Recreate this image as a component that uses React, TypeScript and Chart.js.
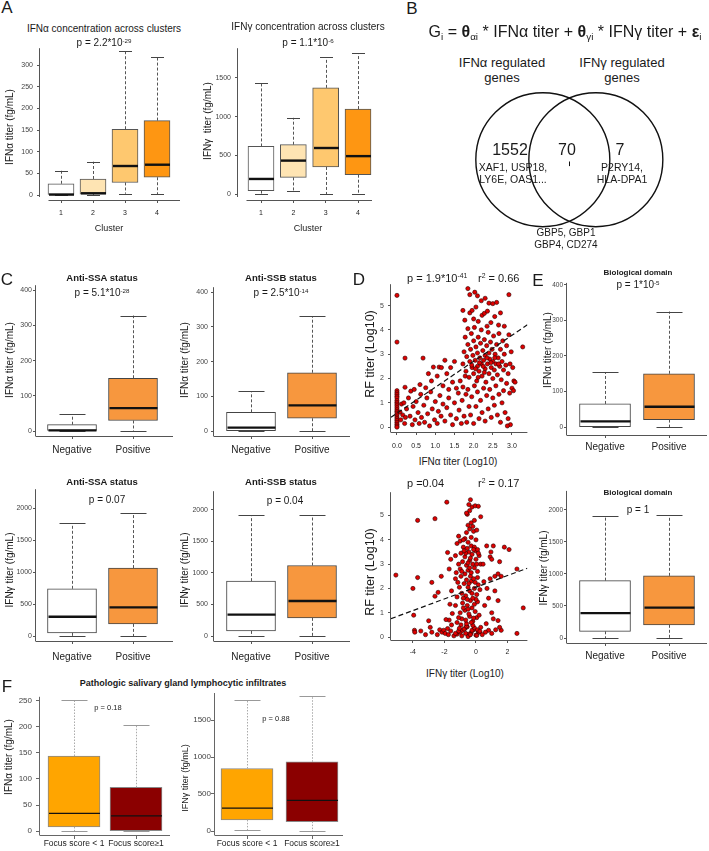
import React, { useEffect, useRef } from 'react';
import { Chart, registerables } from 'chart.js';
Chart.register(...registerables);

const FONT = '"Liberation Sans", Arial, Helvetica, sans-serif';
Chart.defaults.font.family = FONT;

// ---------------- DATA ----------------
// every box row: [min, q1, median, q3, max]
const clusterLabels = ['1', '2', '3', '4'];
const clusterIfnAlpha = [[0, 0, 1, 26, 56], [0, 2, 4, 37, 77], [3, 29, 67, 152, 332], [2, 41, 70, 172, 318]];
const clusterIfnGamma = [[0, 45, 195, 615, 1438], [35, 215, 432, 638, 985], [0, 350, 595, 1372, 1770], [0, 250, 490, 1098, 1822]];

const statusLabels = ['Negative', 'Positive'];
const ssaIfnAlpha = [[0, 0, 2, 18, 47], [0, 30, 65, 150, 328]];
const ssbIfnAlpha = [[0, 0, 10, 54, 115], [0, 37, 74, 168, 330]];
const ssaIfnGamma = [[0, 50, 302, 738, 1765], [0, 190, 448, 1062, 1918]];
const ssbIfnGamma = [[0, 82, 340, 870, 1910], [0, 289, 555, 1118, 1918]];
const bioIfnAlpha = [[0, 0, 16, 65, 154], [0, 21, 57, 150, 325]];
const bioIfnGamma = [[0, 105, 388, 895, 1907], [0, 206, 474, 970, 1918]];

const focusLabels = ['Focus score < 1', 'Focus score\u22651'];
const focusIfnAlpha = [[0, 8, 34, 144, 252], [0, 0, 29, 84, 203]];
const focusIfnGamma = [[14, 150, 309, 845, 1764], [0, 127, 414, 936, 1818]];

const alphaClusterTicks = [0, 50, 100, 150, 200, 250, 300];
const gammaClusterTicks = [0, 500, 1000, 1500];
const alphaStatusTicks = [0, 100, 200, 300, 400];
const gammaStatusTicks = [0, 500, 1000, 1500, 2000];
const focusAlphaTicks = [0, 50, 100, 150, 200, 250];
const focusGammaTicks = [0, 500, 1000, 1500];
const rfTicks = [0, 1, 2, 3, 4, 5];
const alphaLogTicks = [0, 0.5, 1, 1.5, 2, 2.5, 3];
const gammaLogTicks = [-4, -2, 0, 2];

// Venn: IFNα only, both, IFNγ only
const vennCounts = [1552, 70, 7];

// regression fits: [intercept, slope]
const rfAlphaFit = [0.57, 1.07];
const rfGammaFit = [2.05, 0.24];

// RF titer (log10) vs IFNα titer (log10): [x, y]
const rfVsAlpha = [
  [0, 5.42], [0, 3.5], [0, 1.5], [0, 1.42], [0, 1.35], [0, 1.27], [0, 1.2], [0, 1.1], [0, 1.02], [0, 0.95], [0, 0.88], [0, 0.8],
  [0, 0.72], [0, 0.65], [0, 0.58], [0, 0.5], [0, 0.42], [0, 0.35], [0, 0.28], [0, 0.2], [0, 0.12], [0, 0.05], [0, 0.0],
  [0.08, 0.62], [0.1, 0.3], [0.12, 0.95], [0.15, 0.5], [0.18, 1.0], [0.2, 0.15], [0.21, 1.64], [0.21, 2.84], [0.25, 0.75], [0.22, 0.4],
  [0.3, 1.2], [0.34, 0.45], [0.36, 1.48], [0.4, 0.1], [0.42, 0.85], [0.47, 0.3], [0.5, 1.05], [0.55, 0.6], [0.58, 0.15], [0.62, 1.35],
  [0.64, 0.4], [0.7, 0.9], [0.72, 0.2], [0.78, 1.2], [0.8, 0.55], [0.85, 0.05], [0.88, 1.45], [0.92, 0.75], [0.98, 0.3], [1.0, 1.05],
  [1.05, 0.15], [1.08, 0.65], [1.12, 1.3], [1.15, 0.45], [1.2, 0.95], [0.6, 1.75], [0.75, 1.62], [0.45, 1.55],
  [0.68, 2.84], [0.95, 2.47], [1.1, 2.47], [1.16, 2.45], [0.9, 1.9], [1.05, 2.1], [1.2, 1.7], [1.25, 2.75], [1.3, 2.2], [1.35, 1.55],
  [1.4, 2.45], [1.45, 1.85], [1.5, 2.7], [0.82, 2.2],
  [1.25, 0.25], [1.3, 0.8], [1.35, 1.2], [1.4, 0.5], [1.45, 0.1], [1.5, 1.0], [1.55, 0.35], [1.6, 1.4], [1.62, 0.7], [1.68, 0.15],
  [1.7, 1.1], [1.75, 0.45], [1.8, 1.35], [1.82, 0.2], [1.88, 0.85], [1.55, 1.6], [1.65, 1.9], [1.72, 1.65], [1.78, 2.1], [1.85, 1.55],
  [1.72, 2.6], [1.75, 3.1], [1.78, 3.7], [1.8, 2.3], [1.82, 2.9], [1.85, 3.4], [1.85, 4.05], [1.88, 2.05], [1.9, 2.7], [1.92, 3.2],
  [1.94, 3.85], [1.96, 2.45], [1.98, 2.95], [2.0, 3.55], [2.0, 2.2], [2.02, 4.1], [2.04, 2.75], [2.06, 3.3], [2.08, 1.9], [2.1, 2.5],
  [2.1, 3.05], [2.12, 3.7], [2.14, 2.3], [2.16, 2.85], [2.18, 3.45], [2.2, 2.6], [2.2, 4.0], [2.22, 2.1], [2.24, 3.15], [2.26, 2.75],
  [2.28, 3.6], [2.3, 2.4], [2.3, 2.95], [2.32, 1.85], [2.34, 3.35], [2.36, 2.6], [2.38, 3.9], [2.4, 2.2], [2.4, 3.05], [2.42, 2.8],
  [2.44, 3.5], [2.46, 2.45], [2.48, 3.2], [2.5, 2.0], [2.5, 2.7], [2.52, 3.75], [2.54, 2.35], [2.56, 3.0], [2.58, 2.6], [2.6, 3.4],
  [2.62, 2.15], [2.64, 2.85], [2.66, 3.85], [2.68, 2.5], [2.7, 3.2], [2.72, 1.95], [2.74, 2.7], [2.76, 3.55], [2.78, 2.35], [2.8, 3.0],
  [2.84, 2.55], [2.86, 3.35], [2.9, 2.2], [2.92, 3.8], [2.95, 2.6], [2.98, 3.1], [3.02, 2.45], [3.05, 1.9], [1.95, 2.55], [2.05, 2.4],
  [2.15, 2.65], [2.25, 2.5], [2.35, 2.85], [2.45, 2.65], [2.55, 2.85], [2.65, 2.6], [2.28, 2.25], [2.12, 2.05],
  [1.72, 4.8], [1.77, 4.4], [1.85, 5.7], [1.9, 5.45], [1.9, 4.7], [1.96, 4.8], [2.03, 5.55], [2.06, 4.94], [2.1, 5.4], [2.12, 4.35],
  [2.2, 5.2], [2.22, 4.6], [2.28, 4.68], [2.3, 5.3], [2.36, 4.77], [2.4, 5.1], [2.45, 4.3], [2.5, 5.08], [2.55, 4.55], [2.6, 5.13],
  [2.65, 4.2], [2.7, 4.7], [2.8, 4.15], [2.92, 5.45], [2.0, 4.45], [2.35, 4.15],
  [1.92, 0.5], [1.95, 1.25], [2.0, 0.15], [2.02, 1.7], [2.06, 0.85], [2.1, 1.45], [2.14, 0.35], [2.18, 1.1], [2.22, 0.6], [2.26, 1.6],
  [2.3, 0.25], [2.34, 1.3], [2.38, 0.75], [2.42, 1.55], [2.46, 0.4], [2.5, 1.2], [2.54, 0.9], [2.58, 1.7], [2.62, 0.5], [2.66, 1.35],
  [2.7, 0.2], [2.74, 1.0], [2.78, 1.5], [2.82, 0.6], [2.86, 1.8], [2.9, 0.35], [2.94, 1.4], [2.96, 0.1], [3.0, 1.6], [3.04, 1.5],
  [3.08, 1.85], [2.88, 0.05], [3.28, 3.3]
];

// RF titer (log10) vs IFNγ titer (log10): [x, y]
const rfVsGamma = [
  [-5.08, 2.55], [-4.0, 2.0], [-3.95, 0.9], [-3.9, 0.28], [-3.88, 0.2], [-3.7, 2.45], [-3.7, 4.8], [-3.5, 0.25], [-3.2, 0.1],
  [-3.0, 0.67], [-2.9, 0.4], [-2.8, 0.2], [-2.8, 2.25], [-2.6, 1.68], [-2.6, 4.87], [-2.4, 1.84], [-2.2, 2.5], [-2.45, 0.1],
  [-2.3, 0.3], [-2.15, 0.2], [-2.05, 0.28], [-1.85, 5.55], [-1.8, 3.48], [-1.7, 2.8], [-1.6, 3.2], [-1.65, 1.35], [-1.55, 1.9],
  [-1.5, 0.97], [-1.95, 0.15], [-1.8, 0.35], [-1.75, 0.1], [-1.7, 0.7], [-1.9, 0.72], [-1.6, 0.25], [-1.55, 0.5],
  [-1.4, 0.05], [-1.2, 0.12], [-1.0, 0.2], [-0.85, 0.28], [-0.7, 0.35], [-0.55, 0.42], [-0.4, 0.1], [-0.3, 0.18], [-0.15, 0.3],
  [0.0, 0.08], [0.15, 0.22], [0.3, 0.4], [-1.3, 0.15], [-1.1, 0.25], [-0.9, 0.05], [-0.75, 0.33], [-0.6, 0.45], [-0.45, 0.12],
  [-0.25, 0.28], [-0.1, 0.38], [0.05, 0.07], [0.2, 0.2], [-0.95, 0.5], [-0.5, 0.02], [-0.2, 0.48], [0.1, 0.3], [-0.65, 0.15],
  [-0.35, 0.1], [-1.05, 0.36], [0.25, 0.24],
  [-1.2, 0.6], [-0.9, 0.75], [-0.6, 0.55], [-0.4, 0.85], [-0.2, 0.65], [0.05, 0.8], [-1.0, 1.0], [-0.7, 1.1], [-0.45, 0.95],
  [-0.25, 1.2], [-0.05, 1.05], [0.2, 0.9], [-1.3, 1.3], [-0.85, 1.4], [-0.55, 1.3], [-0.35, 1.5], [-0.1, 1.35], [0.1, 1.45],
  [-0.65, 0.7], [-0.3, 0.6], [-0.8, 1.2], [-0.5, 1.15], [0.0, 1.55], [-1.1, 0.8], [-0.15, 0.78],
  [-1.2, 1.65], [-0.9, 1.8], [-0.65, 1.7], [-0.4, 1.9], [-0.2, 1.6], [0.05, 1.75], [-1.05, 2.05], [-0.75, 2.2], [-0.5, 2.05],
  [-0.3, 2.3], [-0.1, 2.0], [0.15, 2.15], [-1.3, 2.4], [-0.95, 2.5], [-0.6, 2.35], [-0.35, 2.5], [-0.15, 2.4], [0.1, 2.45],
  [-0.8, 1.6], [-0.55, 1.55], [-0.25, 1.8], [-0.45, 2.2], [-0.05, 2.25], [-1.15, 2.25], [0.25, 1.95],
  [-1.25, 2.65], [-1.0, 2.8], [-0.7, 2.6], [-0.5, 2.75], [-0.3, 2.65], [-0.1, 2.85], [0.1, 2.7], [-1.1, 3.0], [-0.85, 3.1],
  [-0.6, 2.95], [-0.4, 3.15], [-0.2, 3.0], [0.0, 3.2], [0.3, 3.0], [-1.3, 3.35], [-0.95, 3.45], [-0.7, 3.3], [-0.45, 3.5],
  [-0.25, 3.4], [-0.05, 3.55], [0.2, 3.35], [-0.8, 3.7], [-0.55, 3.65], [-0.3, 3.75], [-0.1, 3.7], [0.1, 3.6], [-0.65, 3.45],
  [-0.35, 3.25], [-0.15, 3.6], [-0.5, 3.05], [-0.9, 2.7], [0.05, 3.0], [-0.75, 3.55], [-0.4, 2.85], [0.15, 3.45],
  [-1.2, 3.85], [-1.0, 3.95], [-0.7, 4.05], [-0.5, 3.9], [-0.3, 4.1], [0.0, 4.0], [-1.1, 4.15], [-0.6, 4.3], [-0.4, 4.45],
  [-0.15, 4.35], [0.05, 4.4], [-0.5, 4.6], [-0.3, 4.7], [-0.1, 4.8], [0.3, 4.95], [-0.55, 5.05], [-0.4, 5.2], [-0.25, 5.35],
  [-0.05, 5.4], [0.15, 5.38], [-0.45, 5.45], [-0.35, 5.65], [-0.6, 5.1], [-0.2, 4.55], [-0.8, 4.0],
  [0.68, 3.75], [0.9, 3.3], [0.95, 3.5], [1.0, 3.2], [1.1, 3.75], [1.2, 2.5], [0.9, 2.4], [1.4, 2.6], [1.5, 3.1], [1.8, 3.7],
  [2.1, 3.6], [0.8, 1.6], [1.0, 1.0], [1.4, 1.5], [1.1, 0.75], [1.4, 0.68], [0.8, 0.28], [1.0, 0.15], [1.6, 0.28], [1.5, 0.4],
  [2.6, 0.15], [2.6, 2.8], [3.0, 1.2], [0.5, 2.28], [0.65, 0.55], [0.55, 1.3], [0.45, 3.0], [0.6, 0.2], [1.25, 0.3], [0.4, 0.1],
  [0.7, 2.0], [1.2, 1.9], [1.6, 2.5]
];

// ---------------- helpers ----------------
function ranges(L) {
  const [pl, pt, pr, pb] = L.plot;
  const [xv0, xp0, xv1, xp1] = L.xCal;
  const kx = (xp1 - xp0) / (xv1 - xv0);
  const [yv0, yp0, yv1, yp1] = L.yCal;
  const ky = (yp0 - yp1) / (yv1 - yv0);
  return {
    xmin: xv0 - (xp0 - pl) / kx,
    xmax: xv0 + (pr - xp0) / kx,
    ymin: yv0 - (pb - yp0) / ky,
    ymax: yv0 + (yp0 - pt) / ky,
  };
}

function baseOptions(L, xTickVals, xFmt, yTickVals, yFmt) {
  const [cx, cy, cw, ch] = L.canvas;
  const [pl, pt, pr, pb] = L.plot;
  const r = ranges(L);
  const gridCfg = {
    display: true, drawOnChartArea: false, drawTicks: true, offset: false,
    tickLength: L.tickLen, color: L.axisColor || '#555', lineWidth: 1,
  };
  return {
    animation: false,
    responsive: false,
    devicePixelRatio: 1,
    layout: { padding: { left: 0, top: pt - cy, right: cx + cw - pr, bottom: 0 } },
    plugins: { legend: { display: false }, tooltip: { enabled: false }, title: { display: false } },
    scales: {
      x: {
        type: 'linear', min: r.xmin, max: r.xmax, offset: false,
        grid: gridCfg, border: { display: false },
        afterFit: (s) => { s.height = cy + ch - pb; },
        afterBuildTicks: (s) => { s.ticks = xTickVals.map((v) => ({ value: v })); },
        ticks: {
          autoSkip: false, maxRotation: 0, minRotation: 0,
          font: { size: L.xFont }, color: L.xColor || '#222',
          padding: L.xLabY - pb - L.tickLen - 0.6 * L.xFont,
          callback: (v) => xFmt(v),
        },
      },
      y: {
        type: 'linear', min: r.ymin, max: r.ymax,
        grid: gridCfg, border: { display: false },
        afterFit: (s) => { s.width = pl - cx; },
        afterBuildTicks: (s) => { s.ticks = yTickVals.map((v) => ({ value: v })); },
        ticks: {
          autoSkip: false, font: { size: L.yFont }, color: '#444',
          padding: pl - L.tickLen - L.yLabRight,
          callback: (v) => yFmt(v),
        },
      },
    },
  };
}

function axisLinePlugin(L) {
  return {
    id: 'axisLines',
    afterDraw(chart) {
      const { ctx, chartArea: a } = chart;
      const gx = L.gapX || 0, gy = L.gapY || 0;
      ctx.save();
      ctx.strokeStyle = L.axisColor || '#555';
      ctx.lineWidth = 1;
      ctx.beginPath();
      ctx.moveTo(a.left - 0.5, a.top);
      ctx.lineTo(a.left - 0.5, a.bottom - gy);
      ctx.moveTo(a.left + gx - 0.5, a.bottom + 0.5);
      ctx.lineTo(a.right, a.bottom + 0.5);
      ctx.stroke();
      ctx.restore();
    },
  };
}

function canvasStyle(L) {
  const [cx, cy, cw, ch] = L.canvas;
  return { position: 'absolute', left: cx, top: cy, width: cw, height: ch };
}

function BoxPanel({ L, stats, labels, yTicks, colors, st }) {
  const ref = useRef(null);
  useEffect(() => {
    const opts = baseOptions(L, labels.map((_, i) => i + 1), (v) => labels[Math.round(v) - 1] ?? '', yTicks, (v) => String(v));
    const boxPlugin = {
      id: 'boxWhiskers',
      afterDatasetsDraw(chart) {
        const { ctx } = chart;
        const xs = chart.scales.x, ys = chart.scales.y;
        const py = (v) => ys.getPixelForValue(v);
        stats.forEach((s, i) => {
          const x = Math.round(xs.getPixelForValue(i + 1)) + 0.5;
          ctx.save();
          ctx.lineWidth = 1;
          ctx.strokeStyle = st.whisker;
          ctx.setLineDash(st.dash);
          ctx.beginPath();
          ctx.moveTo(x, py(s[3])); ctx.lineTo(x, py(s[4]));
          ctx.moveTo(x, py(s[1])); ctx.lineTo(x, py(s[0]));
          ctx.stroke();
          ctx.setLineDash([]);
          ctx.strokeStyle = st.cap;
          ctx.beginPath();
          [s[0], s[4]].forEach((v) => {
            const y = Math.round(py(v)) + 0.5;
            ctx.moveTo(x - st.capW / 2, y); ctx.lineTo(x + st.capW / 2, y);
          });
          ctx.stroke();
          ctx.strokeStyle = st.median;
          ctx.lineWidth = st.medianW;
          ctx.beginPath();
          ctx.moveTo(x - st.boxW / 2 + 0.5, py(s[2])); ctx.lineTo(x + st.boxW / 2 - 0.5, py(s[2]));
          ctx.stroke();
          ctx.restore();
        });
      },
    };
    const chart = new Chart(ref.current, {
      type: 'bar',
      data: {
        datasets: [{
          data: stats.map((s, i) => ({ x: i + 1, y: [s[1], s[3]] })),
          backgroundColor: colors,
          borderColor: st.border,
          borderWidth: 1,
          borderSkipped: false,
          barThickness: st.boxW,
        }],
      },
      options: opts,
      plugins: [boxPlugin, axisLinePlugin(L)],
    });
    return () => chart.destroy();
  }, []);
  return <canvas ref={ref} width={L.canvas[2]} height={L.canvas[3]} style={canvasStyle(L)} />;
}

function ScatterPanel({ L, points, fit, xTicks, xFmt, yTicks }) {
  const ref = useRef(null);
  useEffect(() => {
    const opts = baseOptions(L, xTicks, xFmt, yTicks, (v) => String(v));
    const r = ranges(L);
    const chart = new Chart(ref.current, {
      type: 'scatter',
      data: {
        datasets: [
          {
            data: [r.xmin, r.xmax].map((x) => ({ x, y: fit[0] + fit[1] * x })),
            showLine: true, borderColor: '#111', borderWidth: 1.2, borderDash: [5, 3],
            pointRadius: 0, order: 0,
          },
          {
            data: points.map(([x, y]) => ({ x, y })),
            showLine: false, pointRadius: 2.1, pointBackgroundColor: '#e00000',
            pointBorderColor: '#2a0000', pointBorderWidth: 0.6, order: 1, clip: 4,
          },
        ],
      },
      options: opts,
      plugins: [axisLinePlugin(L)],
    });
    return () => chart.destroy();
  }, []);
  return <canvas ref={ref} width={L.canvas[2]} height={L.canvas[3]} style={canvasStyle(L)} />;
}

function VennPanel() {
  const ref = useRef(null);
  const L = { canvas: [440, 85, 262, 150] };
  useEffect(() => {
    const [cx, cy, cw, ch] = L.canvas;
    const unit = 67; // circle radius in px
    const ox = 567.5, oy = 157;
    const pointer = {
      id: 'vennPointer',
      afterDatasetsDraw(chart) {
        const { ctx } = chart;
        const xs = chart.scales.x, ys = chart.scales.y;
        const x = Math.round(xs.getPixelForValue(0)) + 0.5;
        ctx.save();
        ctx.strokeStyle = '#111';
        ctx.lineWidth = 1;
        ctx.beginPath();
        ctx.moveTo(x, ys.getPixelForValue(-0.3));
        ctx.lineTo(x, ys.getPixelForValue(-1.08));
        ctx.stroke();
        ctx.restore();
      },
    };
    const chart = new Chart(ref.current, {
      type: 'bubble',
      data: {
        datasets: [
          {
            data: [{ x: -0.828, y: 0, r: unit }, { x: 0.828, y: 0, r: unit }],
            backgroundColor: 'rgba(0,0,0,0)', borderColor: '#111', borderWidth: 1.4,
            hoverRadius: 0, clip: false,
          },
        ],
      },
      options: {
        animation: false, responsive: false, devicePixelRatio: 1,
        layout: { padding: 0 },
        plugins: { legend: { display: false }, tooltip: { enabled: false } },
        scales: {
          x: { type: 'linear', display: false, min: (cx - ox) / unit, max: (cx + cw - ox) / unit },
          y: { type: 'linear', display: false, min: (oy - cy - ch) / unit, max: (oy - cy) / unit },
        },
      },
      plugins: [pointer],
    });
    return () => chart.destroy();
  }, []);
  return <canvas ref={ref} width={L.canvas[2]} height={L.canvas[3]} style={canvasStyle(L)} />;
}

// ---------------- text ----------------
function T({ x, y, size = 10, bold = false, rot = false, align = 'center', children }) {
  const tx = align === 'center' ? '-50%' : align === 'left' ? '0' : '-100%';
  return (
    <div
      style={{
        position: 'absolute', left: x, top: y, whiteSpace: 'nowrap', lineHeight: 1,
        fontFamily: FONT, fontSize: size, fontWeight: bold ? 'bold' : 'normal', color: '#1a1a1a',
        transform: `translate(${tx}, -50%)${rot ? ' rotate(-90deg)' : ''}`,
      }}
    >
      {children}
    </div>
  );
}
const Sup = ({ children }) => (
  <span style={{ fontSize: '0.62em', position: 'relative', top: '-0.55em' }}>{children}</span>
);
const Sub = ({ children }) => (
  <span style={{ fontSize: '0.62em', position: 'relative', top: '0.3em' }}>{children}</span>
);

// ---------------- styles ----------------
const stA = { boxW: 26, capW: 13, whisker: '#555', cap: '#444', dash: [3, 2], median: '#111', medianW: 2.4, border: '#555' };
const stC = { boxW: 49, capW: 26, whisker: '#555', cap: '#444', dash: [3, 2], median: '#111', medianW: 2.4, border: '#444' };
const stE = { boxW: 51, capW: 26, whisker: '#555', cap: '#444', dash: [3, 2], median: '#111', medianW: 2.4, border: '#444' };
const stF = { boxW: 52, capW: 26, whisker: '#aaa', cap: '#999', dash: [1.5, 1.5], median: '#111', medianW: 1.2, border: '#888' };
const orange = '#f7973e';
const clusterColors = ['#ffffff', '#fee4b3', '#fec86f', '#fe9612'];

const LA1 = { canvas: [0, 40, 185, 190], plot: [40, 48, 180, 200], xCal: [1, 61, 4, 157], yCal: [0, 195, 300, 65], tickLen: 3, xFont: 7, yFont: 7, xLabY: 213, yLabRight: 33, gapX: 9, gapY: 3 };
const LA2 = { canvas: [195, 40, 180, 190], plot: [238, 47, 372, 200], xCal: [1, 261, 4, 358], yCal: [0, 194, 1500, 77], tickLen: 3, xFont: 7, yFont: 7, xLabY: 213, yLabRight: 231, gapX: 9, gapY: 3 };
const LC1 = { canvas: [0, 280, 178, 180], plot: [36, 284, 173, 436], xCal: [1, 72, 2, 133], yCal: [0, 431, 400, 289], tickLen: 3, xFont: 10, yFont: 7, xLabY: 450, yLabRight: 32 };
const LC2 = { canvas: [178, 280, 176, 180], plot: [214, 284, 350, 436], xCal: [1, 251, 2, 312], yCal: [0, 431, 400, 289], tickLen: 3, xFont: 10, yFont: 7, xLabY: 450, yLabRight: 208 };
const LC3 = { canvas: [0, 484, 178, 185], plot: [36, 488, 173, 641], xCal: [1, 72, 2, 133], yCal: [0, 636, 2000, 507], tickLen: 3, xFont: 10, yFont: 7, xLabY: 657, yLabRight: 32 };
const LC4 = { canvas: [178, 484, 176, 185], plot: [214, 488, 350, 641], xCal: [1, 251, 2, 312], yCal: [0, 636, 2000, 507], tickLen: 3, xFont: 10, yFont: 7, xLabY: 657, yLabRight: 208 };
const LE1 = { canvas: [545, 278, 164, 180], plot: [567, 282, 707, 435], xCal: [1, 605, 2, 669], yCal: [0, 427, 400, 284], tickLen: 3, xFont: 10, yFont: 6.5, xLabY: 447, yLabRight: 563 };
const LE2 = { canvas: [545, 486, 164, 185], plot: [567, 490, 707, 643], xCal: [1, 605, 2, 669], yCal: [0, 638, 2000, 509], tickLen: 3, xFont: 10, yFont: 6.5, xLabY: 656, yLabRight: 563 };
const LD1 = { canvas: [360, 276, 172, 180], plot: [391, 280, 528, 432], xCal: [0, 397, 3, 512.5], yCal: [0, 427, 5, 302], tickLen: 3, xFont: 7, yFont: 7, xLabY: 446, yLabRight: 384 };
const LD2 = { canvas: [360, 484, 172, 180], plot: [391, 488, 528, 640], xCal: [-4, 413, 2, 508], yCal: [0, 637, 5, 512], tickLen: 3, xFont: 7, yFont: 7, xLabY: 652, yLabRight: 384 };
const LF1 = { canvas: [0, 688, 176, 163], plot: [40, 694, 170, 835], xCal: [1, 74, 2, 136], yCal: [0, 831, 250, 698], tickLen: 4, xFont: 8.5, yFont: 8, xLabY: 844, yLabRight: 32, axisColor: '#666' };
const LF2 = { canvas: [178, 688, 170, 163], plot: [215, 693, 343, 835], xCal: [1, 247, 2, 312], yCal: [0, 831, 1500, 720], tickLen: 4, xFont: 8.5, yFont: 8, xLabY: 844, yLabRight: 211, axisColor: '#666' };

export default function App() {
  return (
    <div style={{ position: 'absolute', left: 0, top: 0, width: 709, height: 851, background: '#fff', overflow: 'hidden', fontFamily: FONT }}>
      {/* A */}
      <BoxPanel L={LA1} stats={clusterIfnAlpha} labels={clusterLabels} yTicks={alphaClusterTicks} colors={clusterColors} st={stA} />
      <BoxPanel L={LA2} stats={clusterIfnGamma} labels={clusterLabels} yTicks={gammaClusterTicks} colors={clusterColors} st={stA} />
      {/* B */}
      <VennPanel />
      {/* C */}
      <BoxPanel L={LC1} stats={ssaIfnAlpha} labels={statusLabels} yTicks={alphaStatusTicks} colors={['#ffffff', orange]} st={stC} />
      <BoxPanel L={LC2} stats={ssbIfnAlpha} labels={statusLabels} yTicks={alphaStatusTicks} colors={['#ffffff', orange]} st={stC} />
      <BoxPanel L={LC3} stats={ssaIfnGamma} labels={statusLabels} yTicks={gammaStatusTicks} colors={['#ffffff', orange]} st={stC} />
      <BoxPanel L={LC4} stats={ssbIfnGamma} labels={statusLabels} yTicks={gammaStatusTicks} colors={['#ffffff', orange]} st={stC} />
      {/* D */}
      <ScatterPanel L={LD1} points={rfVsAlpha} fit={rfAlphaFit} xTicks={alphaLogTicks} xFmt={(v) => Number(v).toFixed(1)} yTicks={rfTicks} />
      <ScatterPanel L={LD2} points={rfVsGamma} fit={rfGammaFit} xTicks={gammaLogTicks} xFmt={(v) => String(v)} yTicks={rfTicks} />
      {/* E */}
      <BoxPanel L={LE1} stats={bioIfnAlpha} labels={statusLabels} yTicks={alphaStatusTicks} colors={['#ffffff', orange]} st={stE} />
      <BoxPanel L={LE2} stats={bioIfnGamma} labels={statusLabels} yTicks={gammaStatusTicks} colors={['#ffffff', orange]} st={stE} />
      {/* F */}
      <BoxPanel L={LF1} stats={focusIfnAlpha} labels={focusLabels} yTicks={focusAlphaTicks} colors={['#ffa500', '#8b0000']} st={stF} />
      <BoxPanel L={LF2} stats={focusIfnGamma} labels={focusLabels} yTicks={focusGammaTicks} colors={['#ffa500', '#8b0000']} st={stF} />

      {/* panel letters */}
      <T x={7} y={7} size={17}>A</T>
      <T x={412} y={8} size={17}>B</T>
      <T x={7} y={279} size={17}>C</T>
      <T x={359} y={279} size={17}>D</T>
      <T x={538} y={280} size={17}>E</T>
      <T x={7} y={686} size={17}>F</T>

      {/* A texts */}
      <T x={104} y={29} size={10}>IFNα concentration across clusters</T>
      <T x={104} y={43} size={10}>p = 2.2*10<Sup>-29</Sup></T>
      <T x={308} y={27} size={10}>IFNγ concentration across clusters</T>
      <T x={308} y={43} size={10}>p = 1.1*10<Sup>-6</Sup></T>
      <T x={10} y={127} size={10} rot>IFNα titer (fg/mL)</T>
      <T x={208} y={121} size={10} rot>IFNγ&nbsp; titer (fg/mL)</T>
      <T x={109} y={228} size={9}>Cluster</T>
      <T x={308} y={228} size={9}>Cluster</T>

      {/* B texts */}
      <T x={565} y={32} size={16}>
        G<Sub>i</Sub> = <b>θ</b><Sub>αi</Sub> * IFNα titer + <b>θ</b><Sub>γi</Sub> * IFNγ titer + <b>ε</b><Sub>i</Sub>
      </T>
      <T x={502} y={62} size={13}>IFNα regulated</T>
      <T x={502} y={77} size={13}>genes</T>
      <T x={622} y={62} size={13}>IFNγ regulated</T>
      <T x={622} y={77} size={13}>genes</T>
      <T x={510} y={150} size={16}>{vennCounts[0]}</T>
      <T x={567} y={150} size={16}>{vennCounts[1]}</T>
      <T x={620} y={150} size={16}>{vennCounts[2]}</T>
      <T x={513} y={167} size={10.5}>XAF1, USP18,</T>
      <T x={513} y={179} size={10.5}>LY6E, OAS1...</T>
      <T x={622} y={167} size={10.5}>P2RY14,</T>
      <T x={622} y={179} size={10.5}>HLA-DPA1</T>
      <T x={566} y={233} size={10}>GBP5, GBP1</T>
      <T x={566} y={245} size={10}>GBP4, CD274</T>

      {/* C texts */}
      <T x={102} y={278} size={9.5} bold>Anti-SSA status</T>
      <T x={102} y={293} size={10}>p = 5.1*10<Sup>-28</Sup></T>
      <T x={281} y={278} size={9.5} bold>Anti-SSB status</T>
      <T x={281} y={293} size={10}>p = 2.5*10<Sup>-14</Sup></T>
      <T x={102} y={482} size={9.5} bold>Anti-SSA status</T>
      <T x={107} y={500} size={10}>p = 0.07</T>
      <T x={281} y={482} size={9.5} bold>Anti-SSB status</T>
      <T x={285} y={501} size={10}>p = 0.04</T>
      <T x={10} y={360} size={10} rot>IFNα titer (fg/mL)</T>
      <T x={185} y={360} size={10} rot>IFNα titer (fg/mL)</T>
      <T x={10} y={570} size={10} rot>IFNγ titer (fg/mL)</T>
      <T x={185} y={570} size={10} rot>IFNγ titer (fg/mL)</T>

      {/* D texts */}
      <T x={407} y={278} size={11} align="left">p = 1.9*10<Sup>-41</Sup></T>
      <T x={478} y={278} size={11} align="left">r<Sup>2</Sup> = 0.66</T>
      <T x={370} y={354} size={12.5} rot>RF titer (Log10)</T>
      <T x={458} y={462} size={10}>IFNα titer (Log10)</T>
      <T x={407} y={483} size={11} align="left">p =0.04</T>
      <T x={478} y={483} size={11} align="left">r<Sup>2</Sup> = 0.17</T>
      <T x={370} y={572} size={12.5} rot>RF titer (Log10)</T>
      <T x={465} y={674} size={10}>IFNγ titer (Log10)</T>

      {/* E texts */}
      <T x={638} y={273} size={8} bold>Biological domain</T>
      <T x={638} y={285} size={10}>p = 1*10<Sup>-5</Sup></T>
      <T x={638} y={493} size={8} bold>Biological domain</T>
      <T x={638} y={510} size={10}>p = 1</T>
      <T x={548} y={350} size={10} rot>IFNα titer (fg/mL)</T>
      <T x={544} y={568} size={10} rot>IFNγ titer (fg/mL)</T>

      {/* F texts */}
      <T x={183} y={683} size={9} bold>Pathologic salivary gland lymphocytic infiltrates</T>
      <T x={9} y={757} size={10} rot>IFNα titer (fg/mL)</T>
      <T x={185} y={778} size={9} rot>IFNγ titer (fg/mL)</T>
      <T x={108} y={708} size={7.5}>p = 0.18</T>
      <T x={276} y={719} size={7.5}>p = 0.88</T>
    </div>
  );
}
